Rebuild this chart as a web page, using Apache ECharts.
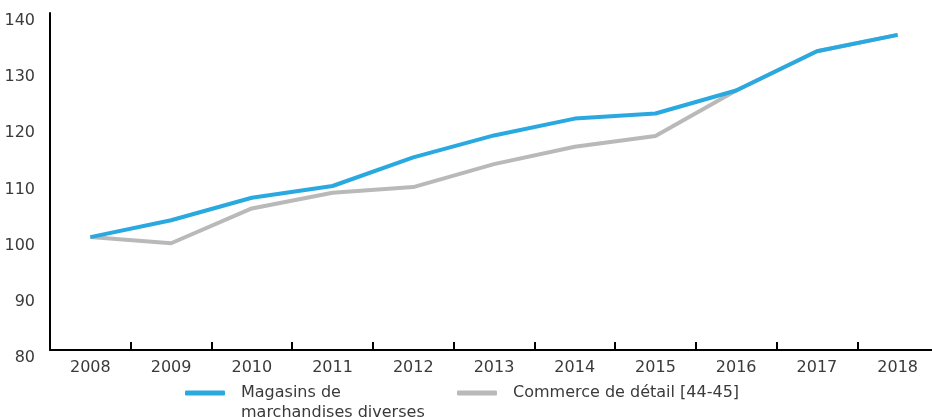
<!DOCTYPE html>
<html>
<head>
<meta charset="utf-8">
<script src="https://cdn.jsdelivr.net/npm/echarts@6/dist/echarts.min.js"></script>
<style>
  html, body { margin: 0; padding: 0; background: #fff; }
  #container { width: 932px; height: 417px; }
</style>
</head>
<body>
<div id="container"></div>
<script>
let years = ['2008', '2009', '2010', '2011', '2012', '2013', '2014', '2015', '2016', '2017', '2018'];
let magasins = [100.1, 103.1, 107.1, 109.2, 114.3, 118.2, 121.2, 122.1, 126.2, 133.2, 136.1];
let commerce = [100.1, 99.0, 105.2, 108.0, 109.0, 113.1, 116.2, 118.1, 126.2, 133.2, 136.1];
let nameMagasins = 'Magasins de\nmarchandises diverses';
let nameCommerce = 'Commerce de détail [44-45]';

let font = 'DejaVu Sans';
let textColor = '#3a3a3a';

let dom = document.getElementById("container");
let myChart = echarts.init(dom);
let option = {
    textStyle: { fontFamily: font },
    animation: false,
    grid: {
        left: 50,
        top: 13,
        width: 888,
        bottom: 67,
        outerBoundsMode: 'none'
    },
    legend: [
        {
            data: [nameMagasins],
            // blank first line so that the icon sits beside the first text line
            formatter: function (name) { return ' \n' + name; },
            left: 180,
            top: 358,
            itemWidth: 40,
            itemHeight: 5,
            icon: 'roundRect',
            textStyle: { fontSize: 16, color: textColor, lineHeight: 20, padding: [0, 0, 0, 11] }
        },
        {
            data: [nameCommerce],
            left: 452,
            top: 378,
            itemWidth: 40,
            itemHeight: 5,
            icon: 'roundRect',
            textStyle: { fontSize: 16, color: textColor, lineHeight: 20, padding: [0, 0, 0, 11] }
        }
    ],
    xAxis: {
        type: 'category',
        data: years,
        boundaryGap: true,
        axisLine: { lineStyle: { color: '#000', width: 2 } },
        axisTick: { show: true, inside: true, length: 8, lineStyle: { color: '#000', width: 2 } },
        axisLabel: { fontSize: 16, color: textColor, margin: 10 }
    },
    yAxis: {
        type: 'value',
        min: 80,
        max: 140,
        interval: 10,
        axisLine: { show: true, lineStyle: { color: '#000', width: 2 } },
        axisTick: { show: false },
        splitLine: { show: false },
        axisLabel: { fontSize: 16, color: textColor, margin: 15, verticalAlign: 'top', lineHeight: 16 }
    },
    series: [
        {
            name: nameCommerce,
            type: 'line',
            data: commerce,
            symbol: 'none',
            color: '#b9b9b9',
            lineStyle: { width: 4, color: '#b9b9b9' }
        },
        {
            name: nameMagasins,
            type: 'line',
            data: magasins,
            symbol: 'none',
            color: '#29a9e0',
            lineStyle: { width: 4, color: '#29a9e0' }
        }
    ]
};
if (option && typeof option === "object")
{
    myChart.setOption(option, true);
}
</script>
</body>
</html>
